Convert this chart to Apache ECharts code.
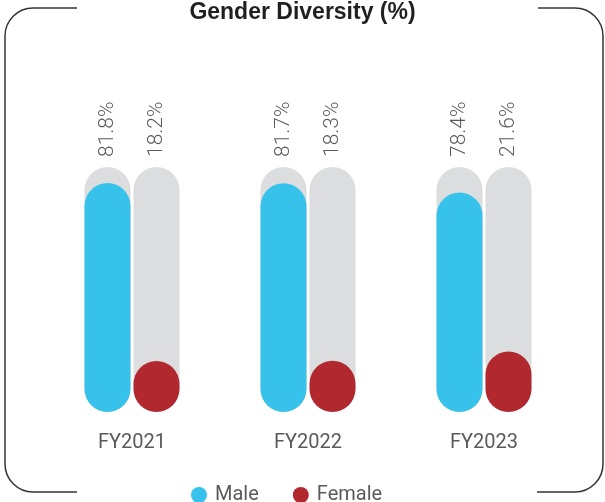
<!DOCTYPE html>
<html>
<head>
<meta charset="utf-8">
<script src="https://cdn.jsdelivr.net/npm/echarts@6/dist/echarts.min.js"></script>
<style>
  html, body { margin: 0; padding: 0; background: #fff; }
  #chart { width: 605px; height: 502px; }
</style>
</head>
<body>
<div id="chart"></div>
<script>
// data
var years = ['FY2021', 'FY2022', 'FY2023'];
var male = [81.8, 81.7, 78.4];
var female = [18.2, 18.3, 21.6];
var trackValue = [87.5, 87.5, 87.5]; // grey background capsule height

var chart = echarts.init(document.getElementById('chart'));

var BLUE = '#36C2EB', RED = '#B1282F', GREY = '#DCDDDE', TXT = '#5a5a5c';
var FONT = 'Roboto, "Liberation Sans", sans-serif';

function trackLabel(vals) {
    return {
        show: true,
        position: 'top',
        rotate: 90,
        align: 'left',
        verticalAlign: 'middle',
        distance: 10,
        color: TXT,
        fontSize: 21,
        fontWeight: 300,
        fontFamily: FONT,
        formatter: function (p) { return vals[p.dataIndex].toFixed(1) + '%'; }
    };
}

// frame pieces (decoration only)
var frameStyle = { stroke: '#333', lineWidth: 1.5, fill: null };
function seg(x1, y1, x2, y2) {
    return { type: 'line', silent: true, z: 0, shape: { x1: x1, y1: y1, x2: x2, y2: y2 }, style: frameStyle };
}
function corner(cx, cy, a0, a1) {
    return { type: 'arc', silent: true, z: 0, shape: { cx: cx, cy: cy, r: 28, startAngle: a0, endAngle: a1, clockwise: true }, style: frameStyle };
}
var PI = Math.PI;

var option = {
    animation: false,
    title: {
        text: 'Gender Diversity (%)',
        left: 'center',
        top: -4,
        textStyle: { fontSize: 23, fontWeight: 'bold', color: '#231f20', fontFamily: '"Liberation Sans", Arial, sans-serif' }
    },
    legend: {
        data: ['Male', 'Female'],
        left: 186,
        top: 480,
        icon: 'circle',
        itemWidth: 16,
        itemHeight: 16,
        itemGap: 34,
        textStyle: { fontSize: 20, color: TXT, fontFamily: FONT, padding: [0, 0, 0, 3] }
    },
    grid: { left: 44, right: 33, top: 132, bottom: 90 },
    xAxis: [
        {
            type: 'category',
            data: years,
            axisLine: { show: false },
            axisTick: { show: false },
            axisLabel: { color: TXT, fontSize: 20, fontFamily: FONT, margin: 21 }
        },
        {
            type: 'category',
            data: years,
            show: false
        }
    ],
    yAxis: { type: 'value', min: 0, max: 100, show: false },
    series: [
        {
            name: 'maleTrack', type: 'bar', xAxisIndex: 1, data: trackValue,
            barWidth: 46, barGap: '6.5%', z: 1, silent: true,
            itemStyle: { color: GREY, borderRadius: 23 },
            label: trackLabel(male)
        },
        {
            name: 'femaleTrack', type: 'bar', xAxisIndex: 1, data: trackValue,
            barWidth: 46, barGap: '6.5%', z: 1, silent: true,
            itemStyle: { color: GREY, borderRadius: 23 },
            label: trackLabel(female)
        },
        {
            name: 'Male', type: 'bar', xAxisIndex: 0, data: male,
            barWidth: 46, barGap: '6.5%', z: 3,
            itemStyle: { color: BLUE, borderRadius: 23 }
        },
        {
            name: 'Female', type: 'bar', xAxisIndex: 0, data: female,
            barWidth: 46, barGap: '6.5%', z: 3,
            itemStyle: { color: RED, borderRadius: 23 }
        }
    ],
    graphic: [
        seg(77, 8, 33, 8),
        corner(33, 36, PI, 1.5 * PI),
        seg(5, 36, 5, 464),
        corner(33, 464, 0.5 * PI, PI),
        seg(33, 492, 77, 492),
        seg(538, 8, 575, 8),
        corner(575, 36, 1.5 * PI, 2 * PI),
        seg(603, 36, 603, 464),
        corner(575, 464, 0, 0.5 * PI),
        seg(575, 492, 537, 492)
    ]
};

chart.setOption(option);
</script>
</body>
</html>
